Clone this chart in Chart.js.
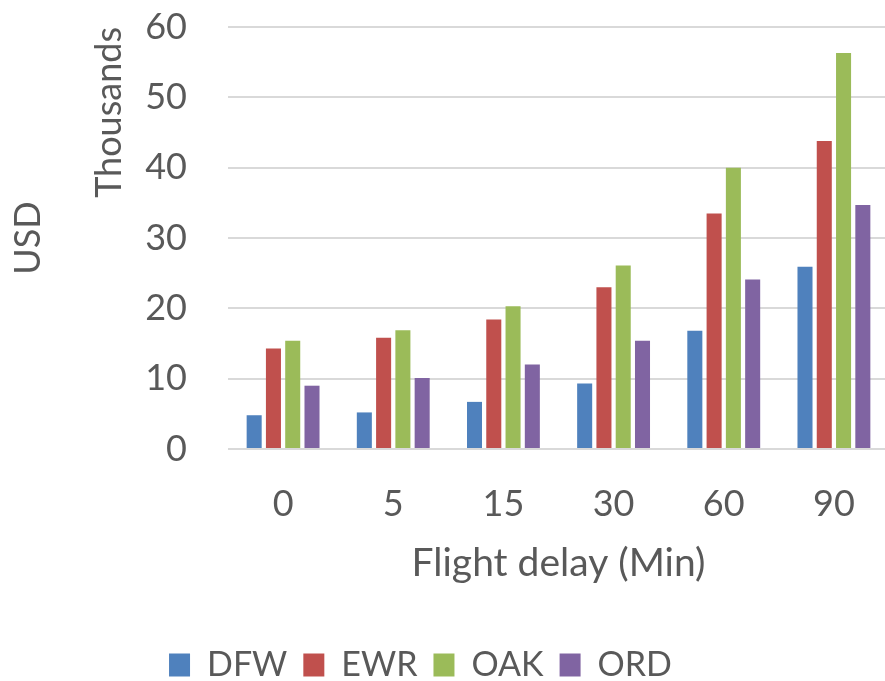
<!DOCTYPE html>
<html>
<head>
<meta charset="utf-8">
<title>Flight delay cost by airport</title>
<script src="https://cdn.jsdelivr.net/npm/chart.js@4.4.1/dist/chart.umd.min.js"></script>
<style>
  html, body { margin: 0; padding: 0; background: #ffffff; overflow: hidden; }
  canvas { display: block; }
</style>
</head>
<body>
<canvas id="chart" width="889" height="681"></canvas>
<script>
// Flight delay categories (minutes)
const delays = ['0', '5', '15', '30', '60', '90'];

// Cost per airport, in thousands of USD
const dfw = [4.8, 5.2, 6.7, 9.3, 16.8, 25.9];
const ewr = [14.3, 15.8, 18.4, 23.0, 33.5, 43.8];
const oak = [15.4, 16.9, 20.3, 26.1, 40.0, 56.3];
const ord = [9.0, 10.1, 12.0, 15.4, 24.1, 34.7];

// Value axis range
const yMin = 0;
const yMax = 60;
const yStep = 10;

const textColor = '#595959';
const gridColor = '#d9d9d9';
const fontFamily = 'Lato, "Open Sans", sans-serif';
const font = { family: fontFamily, size: 36, lineHeight: 1.2 };

const series = [
  { label: 'DFW', data: dfw, color: '#4f81bd' },
  { label: 'EWR', data: ewr, color: '#c0504d' },
  { label: 'OAK', data: oak, color: '#9bbb59' },
  { label: 'ORD', data: ord, color: '#8064a2' }
];

// Nudges the bottom legend a little to the left of the canvas centre
const legendOffset = {
  id: 'legendOffset',
  afterLayout(chart, args, opts) {
    const lg = chart.legend;
    if (lg) {
      lg.left += opts.dx;
      lg.right += opts.dx;
    }
  }
};

new Chart(document.getElementById('chart'), {
  type: 'bar',
  data: {
    labels: delays,
    datasets: series.map(s => ({
      label: s.label,
      data: s.data,
      backgroundColor: s.color,
      borderWidth: 0,
      categoryPercentage: 0.70,
      barPercentage: 0.78,
      yAxisID: 'y'
    }))
  },
  plugins: [legendOffset],
  options: {
    responsive: false,
    animation: false,
    devicePixelRatio: 1,
    layout: { padding: { top: 27, right: 0, bottom: 0, left: 0 } },
    plugins: {
      tooltip: { enabled: false },
      legendOffset: { dx: -24 },
      legend: {
        position: 'bottom',
        maxHeight: 49,
        labels: {
          color: textColor,
          font: { family: fontFamily, size: 34, lineHeight: 1.2 },
          boxWidth: 21,
          boxHeight: 23,
          padding: 16
        }
      }
    },
    scales: {
      x: {
        grid: { display: false },
        border: { display: false },
        ticks: { color: textColor, font: font, padding: 26, maxRotation: 0 },
        title: {
          display: true,
          text: 'Flight delay (Min)',
          color: textColor,
          font: { family: fontFamily, size: 39, lineHeight: 1.2 },
          padding: { top: 0, bottom: 45 }
        },
        afterFit(scale) { scale.height = 183; }
      },
      y: {
        position: 'left',
        min: yMin,
        max: yMax,
        weight: 0,
        ticks: { stepSize: yStep, color: textColor, font: font, padding: 0 },
        // invisible tick marks keep the labels clear of the plot
        grid: { color: gridColor, lineWidth: 2, drawTicks: true, tickLength: 41, tickColor: 'rgba(0,0,0,0)' },
        border: { display: false },
        title: {
          display: true,
          text: 'Thousands',
          align: 'end',
          color: textColor,
          font: font,
          padding: { top: 0, bottom: 0 }
        },
        afterFit(scale) { scale.width = 140.6; }
      },
      yUnit: {
        position: 'left',
        weight: 1,
        min: yMin,
        max: yMax,
        ticks: { display: false },
        grid: { display: false },
        border: { display: false },
        title: {
          display: true,
          text: 'USD',
          color: textColor,
          font: font,
          padding: { top: 7, bottom: 0 }
        },
        afterFit(scale) { scale.width = 87.4; }
      }
    }
  }
});
</script>
</body>
</html>
